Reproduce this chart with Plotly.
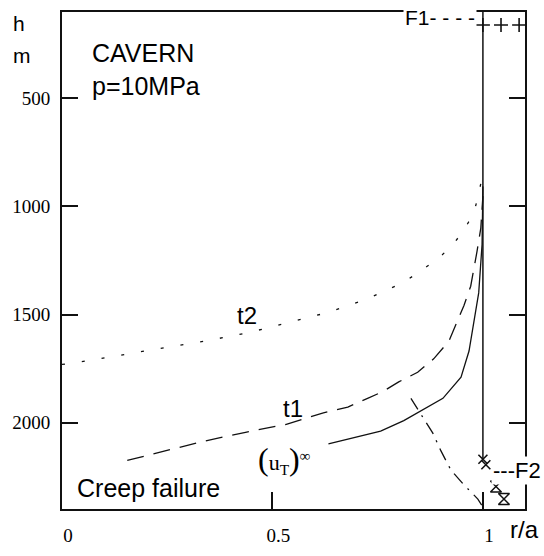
import plotly.graph_objects as go

# ---------------- data ----------------
t2_r = [0.0, 0.062, 0.157, 0.252, 0.348, 0.443, 0.543, 0.633, 0.726, 0.812, 0.893, 0.929, 0.955, 0.979, 0.990, 1.0]
t2_h = [1731, 1714, 1682, 1651, 1620, 1584, 1534, 1490, 1427, 1351, 1243, 1176, 1109, 1028, 939, 849]

t1_r = [0.155, 0.245, 0.340, 0.436, 0.531, 0.621, 0.679, 0.726, 0.762, 0.800, 0.845, 0.883, 0.919, 0.955, 0.971, 0.986, 0.995, 1.0]
t1_h = [2175, 2130, 2085, 2045, 2009, 1955, 1928, 1888, 1857, 1812, 1767, 1705, 1624, 1458, 1369, 1208, 1100, 952]

uT_r = [0.633, 0.693, 0.757, 0.812, 0.860, 0.905, 0.948, 0.967, 0.990, 0.998, 1.0]
uT_h = [2099, 2072, 2040, 1991, 1937, 1888, 1790, 1669, 1400, 1176, 907]

fail_r = [0.829, 0.860, 0.881, 0.900, 0.924, 0.952, 0.988, 0.998]
fail_h = [1888, 1982, 2049, 2130, 2220, 2282, 2354, 2385]

wall_r = [1.0, 1.0]
wall_h = [100, 2170]

F1_r = [1.0, 1.043, 1.086]
F1_h = [160, 160, 160]

F2x_r = [1.0, 1.007]
F2x_h = [2170, 2195]
F2b_r = [1.031, 1.05]
F2b_h = [2296, 2354]

x_ticks = [0, 0.5, 1]
x_ticktext = ["0", "0.5", "1"]
y_ticks = [500, 1000, 1500, 2000]
y_ticktext = ["500", "1000", "1500", "2000"]

# ---------------- figure ----------------
W, H = 544, 556
L, R, T, B = 62, 19, 10, 33
pw, ph = W - L - R, H - T - B

def px(x):
    return (x - L) / pw

def py(y):
    return (H - B - y) / ph

SANS = "Liberation Sans, Arial, sans-serif"
SERIF = "Liberation Serif, Times New Roman, serif"

fig = go.Figure()
line_c = "#111111"

fig.add_trace(go.Scatter(x=t2_r, y=t2_h, mode="lines",
                         line=dict(color=line_c, width=1.3, dash="3px,17px"), showlegend=False))
fig.add_trace(go.Scatter(x=t1_r, y=t1_h, mode="lines",
                         line=dict(color=line_c, width=1.3, dash="17px,10px"), showlegend=False))
fig.add_trace(go.Scatter(x=uT_r, y=uT_h, mode="lines",
                         line=dict(color=line_c, width=1.3), showlegend=False))
fig.add_trace(go.Scatter(x=fail_r, y=fail_h, mode="lines",
                         line=dict(color=line_c, width=1.3, dash="13px,7px,2px,7px"), showlegend=False))
fig.add_trace(go.Scatter(x=wall_r, y=wall_h, mode="lines",
                         line=dict(color=line_c, width=1.5), showlegend=False))
fig.add_trace(go.Scatter(x=F1_r, y=F1_h, mode="markers",
                         marker=dict(symbol="cross-thin", size=10, line=dict(color=line_c, width=1.6)),
                         showlegend=False))
fig.add_trace(go.Scatter(x=F2x_r, y=F2x_h, mode="markers",
                         marker=dict(symbol="x-thin", size=9, line=dict(color=line_c, width=1.6)),
                         showlegend=False))
fig.add_trace(go.Scatter(x=F2b_r, y=F2b_h, mode="markers",
                         marker=dict(symbol="hourglass-open", size=11, color=line_c,
                                     line=dict(color=line_c, width=1.5)),
                         showlegend=False))

fig.update_xaxes(range=[0, 1.1], tickvals=x_ticks, ticktext=x_ticktext,
                 ticks="inside", ticklen=17, tickwidth=2, tickcolor=line_c,
                 showline=True, linewidth=2, linecolor=line_c, mirror=True,
                 showgrid=False, zeroline=False,
                 tickfont=dict(family=SERIF, size=19, color="black"),
                 ticklabelstandoff=8, ticklabelshift=6)
fig.update_yaxes(range=[2400, 100], tickvals=y_ticks, ticktext=y_ticktext,
                 ticks="inside", ticklen=16, tickwidth=2, tickcolor=line_c,
                 showline=True, linewidth=2, linecolor=line_c, mirror="ticks",
                 showgrid=False, zeroline=False,
                 tickfont=dict(family=SERIF, size=19, color="black"),
                 ticklabelstandoff=6)

def ann(text, x, y, size=24, family=SANS, xanchor="center", yanchor="middle", bg=None):
    d = dict(text=text, x=px(x), y=py(y), xref="paper", yref="paper",
             showarrow=False, xanchor=xanchor, yanchor=yanchor,
             font=dict(family=family, size=size, color="black"))
    if bg:
        d["bgcolor"] = bg
    fig.add_annotation(**d)

ann("h", 19, 22, size=21)
ann("m", 22, 55, size=21)
ann("CAVERN", 90, 52, size=25, xanchor="left")
ann("p=10MPa", 90, 86, size=25, xanchor="left")
ann("t2", 247, 323, size=24)
ann("t1", 293, 419, size=24)
ann("Creep failure", 75, 501, size=25, xanchor="left")
ann("r/a", 508, 544, size=24, xanchor="left")
ann("<span style='font-size:32px'>(</span>u<sub>T</sub><span style='font-size:32px'>)</span><sup>∞</sup>",
    284, 472, size=22, family=SERIF)
ann("F1- - - -", 403, 16, size=21, xanchor="left", bg="white")
ann("---F2", 491, 483, size=22, xanchor="left", bg="white")

fig.update_layout(width=W, height=H, margin=dict(l=L, r=R, t=T, b=B),
                  paper_bgcolor="white", plot_bgcolor="white")

fig.write_html("out.html")
